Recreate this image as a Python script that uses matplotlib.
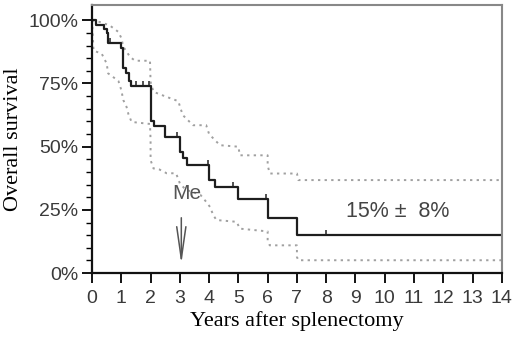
import numpy as np
import matplotlib
matplotlib.use('Agg')
import matplotlib.pyplot as plt

# Kaplan-Meier estimate (drop times and survival after each drop, %)
km_t = [0, 0.15, 0.4, 0.5, 0.55, 1.0, 1.07, 1.15, 1.25, 1.32, 2.0, 2.1, 2.5,
        3.0, 3.1, 3.23, 4.0, 4.2, 5.0, 6.0, 7.0, 14]
km_s = [100, 98, 96.5, 95, 91, 89, 81, 79, 76, 74, 60, 58, 54,
        48, 45.5, 42.7, 37, 34, 29.5, 22, 15, 15]

# censored observations (years)
cens_t = [0.6, 1.5, 1.75, 1.95, 2.9, 3.95, 4.8, 5.95, 8.0]

# confidence band
up_t = [0, 0.27, 0.6, 0.9, 1.0, 1.07, 1.3, 1.47, 1.98, 2.0, 2.1, 2.55, 2.95, 3.0,
        3.1, 3.45, 3.9, 4.0, 4.2, 4.37, 5.0, 5.05, 6.0, 6.0, 6.07, 7.0, 7.05, 14]
up_s = [100, 99.3, 98, 95.4, 93, 89.5, 85.5, 84, 84, 75.6, 71.7, 69.7, 68, 66,
        62.5, 58.5, 58.5, 55, 52.6, 50.6, 50, 46.6, 46.6, 42.7, 39.4, 39.4, 36.8, 36.8]
lo_t = [0, 0.05, 0.33, 0.5, 0.55, 0.67, 0.9, 0.96, 1.0, 1.07, 1.18, 1.24, 1.35, 1.98,
        2.0, 2.0, 2.1, 2.3, 2.55, 2.87, 3.0, 3.2, 3.7, 3.9, 4.03, 4.14, 4.25, 4.94,
        5.05, 6.0, 6.0, 6.07, 7.0, 7.0, 7.05, 14]
lo_s = [100, 88, 86.8, 82.9, 79, 78, 76, 74, 72.3, 68.4, 65.7, 63, 59.8, 59,
        52.6, 44.7, 41.4, 41, 39.5, 39.5, 35.5, 33, 31, 28.2, 26.2, 23, 21, 20.3,
        17.6, 16.5, 13, 11, 11, 6.4, 5.1, 5.1]

median_t = 3.05
final_txt = '15% \u00b1  8%'

fig = plt.figure(figsize=(5.2, 3.41), dpi=100)
ax = fig.add_axes([0.177, 0.199, 0.788, 0.786])

ax.plot(up_t, up_s, color='#a0a0a0', lw=1.4, ls=(0, (1.2, 2.2)))
ax.plot(lo_t, lo_s, color='#a0a0a0', lw=1.4, ls=(0, (1.2, 2.2)))
ax.step(km_t, km_s, where='post', color='#1e1e1e', lw=1.6)

idx = np.searchsorted(km_t, cens_t, side='right') - 1
cens_s = np.array(km_s)[idx]
ax.plot(cens_t, cens_s + 1.2, ls='none', marker='|', ms=3.5, mew=1.2, color='#333333')

ax.text(3.25, 31.4, 'Me', fontsize=15, color='#555555', ha='center', va='center',
        family='Liberation Sans')
ax.annotate('', xy=(median_t, 2.5), xytext=(median_t, 23),
            arrowprops=dict(arrowstyle='->,head_length=2.3,head_width=0.33',
                            color='#555555', lw=1.1))
ax.text(10.45, 24.3, final_txt, fontsize=15.5, color='#444444', ha='center', va='center',
        family='Liberation Sans')

ax.set_xlim(0, 14)
ax.set_ylim(0, 106)
ax.set_xticks(np.arange(0, 15, 1))
ax.set_yticks([0, 25, 50, 75, 100])
ax.set_yticklabels(['0%', '25%', '50%', '75%', '100%'])
ax.set_yticks(np.arange(0, 101, 5), minor=True)
ax.tick_params(axis='both', which='major', direction='out', length=7, width=1.3,
               labelsize=14, labelcolor='#3a3a3a', pad=3)
ax.tick_params(axis='x', which='major', pad=5)
ax.tick_params(axis='y', which='minor', direction='out', length=4, width=1)
for lab in ax.get_xticklabels() + ax.get_yticklabels():
    lab.set_family('Liberation Sans')

for s in ['left', 'bottom']:
    ax.spines[s].set_linewidth(1.6)
    ax.spines[s].set_color('#111111')
for s in ['top', 'right']:
    ax.spines[s].set_linewidth(1.5)
    ax.spines[s].set_color('#888888')

ax.set_xlabel('Years after splenectomy', fontsize=16, family='Liberation Serif', labelpad=3)
ax.set_ylabel('Overall survival', fontsize=16, family='Liberation Serif', labelpad=4)

fig.savefig('out.png', dpi=100)
